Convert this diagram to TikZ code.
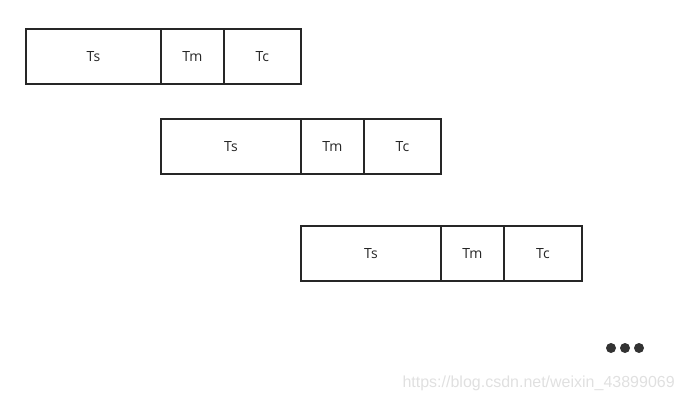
\documentclass[tikz,border=0pt]{standalone}
\usepackage{fontspec}
\setmainfont{Open Sans}
\newfontfamily\wmfont{Liberation Sans}
\begin{document}
\begin{tikzpicture}[x=0.75pt,y=-0.75pt,
  cell/.style={draw=black!85,line width=1.4pt,minimum height=55*0.75pt,inner sep=0pt,font=\fontsize{10.5}{12}\selectfont,text=black!85},
  dotc/.style={fill=black!80,draw=none,circle,inner sep=0pt,minimum size=7.5pt}]
\useasboundingbox (0,0) rectangle (684,402);
% row 1
\node[cell,minimum width=135*0.75pt,anchor=north west] (s1) at (25,28) {Ts};
\node[cell,minimum width=63*0.75pt,anchor=north west] (m1) at (160,28) {Tm};
\node[cell,minimum width=77*0.75pt,anchor=north west] (c1) at (223,28) {Tc};
% row 2
\node[cell,minimum width=140*0.75pt,anchor=north west] (s2) at (160,118) {Ts};
\node[cell,minimum width=63*0.75pt,anchor=north west] (m2) at (300,118) {Tm};
\node[cell,minimum width=77*0.75pt,anchor=north west] (c2) at (363,118) {Tc};
% row 3
\node[cell,minimum width=140*0.75pt,anchor=north west] (s3) at (300,225) {Ts};
\node[cell,minimum width=63*0.75pt,anchor=north west] (m3) at (440,225) {Tm};
\node[cell,minimum width=78*0.75pt,anchor=north west] (c3) at (503,225) {Tc};
% dots
\node[dotc] (d1) at (611,348) {};
\node[dotc] (d2) at (625,348) {};
\node[dotc] (d3) at (639,348) {};
% watermark
\node[text=black!12,font=\fontsize{12}{14}\wmfont,anchor=east,inner sep=0pt] (wm) at (675,383) {https://blog.csdn.net/weixin\_43899069};
\end{tikzpicture}
\end{document}
